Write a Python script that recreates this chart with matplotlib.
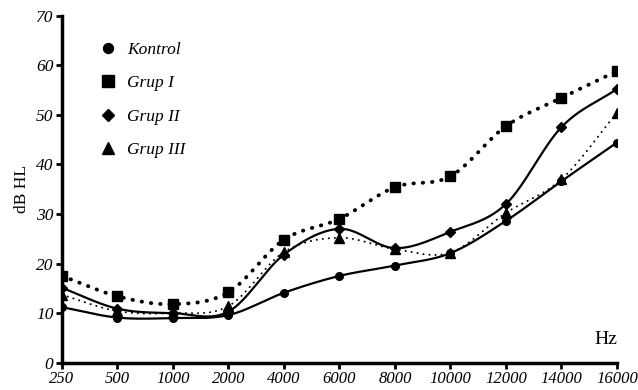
import numpy as np
import matplotlib.pyplot as plt

freqs = ['250', '500', '1000', '2000', '4000', '6000', '8000', '10000', '12000', '14000', '16000']
kontrol = [11.2, 9.1, 9.0, 9.6, 14.1, 17.5, 19.6, 22.1, 28.6, 36.6, 44.4]
grup1 = [17.5, 13.4, 11.8, 14.2, 24.8, 29.0, 35.4, 37.6, 47.7, 53.4, 58.8]
grup2 = [15.1, 10.9, 10.0, 10.3, 21.8, 27.0, 23.1, 26.4, 32.0, 47.5, 55.2]
grup3 = [13.7, 10.4, 10.0, 11.4, 22.3, 25.2, 22.9, 22.2, 30.2, 37.0, 50.4]


def smooth(y, n=30):
    # catmull-rom spline through the points
    y = np.asarray(y, float)
    x = np.arange(len(y), dtype=float)
    p = np.concatenate([[2 * y[0] - y[1]], y, [2 * y[-1] - y[-2]]])
    xs, ys = [], []
    for i in range(len(y) - 1):
        t = np.linspace(0, 1, n, endpoint=False)
        p0, p1, p2, p3 = p[i], p[i + 1], p[i + 2], p[i + 3]
        seg = 0.5 * (2 * p1 + (-p0 + p2) * t + (2 * p0 - 5 * p1 + 4 * p2 - p3) * t ** 2
                     + (-p0 + 3 * p1 - 3 * p2 + p3) * t ** 3)
        xs.append(x[i] + t)
        ys.append(seg)
    xs.append([x[-1]])
    ys.append([y[-1]])
    return np.concatenate(xs), np.concatenate(ys)


plt.rcParams['font.family'] = ['Liberation Serif', 'DejaVu Serif']

fig, ax = plt.subplots(figsize=(6.38, 3.90), dpi=100)
fig.subplots_adjust(left=0.097, right=0.967, top=0.96, bottom=0.07)

x = np.arange(len(freqs))
series = [
    (kontrol, 'o', dict(ls='-', lw=1.6), 'Kontrol', 5.5),
    (grup1, 's', dict(ls=(0, (0.1, 2.3)), lw=2.8, dash_capstyle='round'), 'Grup I', 6.5),
    (grup2, 'D', dict(ls='-', lw=1.6), 'Grup II', 5),
    (grup3, '^', dict(ls=(0, (0.1, 3.0)), lw=1.4, dash_capstyle='round'), 'Grup III', 6.5),
]
for vals, m, style, name, ms in series:
    sx, sy = smooth(vals)
    ax.plot(sx, sy, color='black', **style)
    ax.plot(x, vals, ls='none', marker=m, ms=ms, color='black', label=name)

ax.set_xlim(0, 10)
ax.set_ylim(0, 70)
ax.set_xticks(x)
ax.set_xticklabels(freqs, fontstyle='italic', fontsize=12)
ax.set_yticks(range(0, 71, 10))
ax.set_yticklabels([str(v) for v in range(0, 71, 10)], fontstyle='italic', fontsize=12.5)
ax.spines['top'].set_visible(False)
ax.spines['right'].set_visible(False)
ax.spines['left'].set_linewidth(2.5)
ax.spines['bottom'].set_linewidth(2.5)
ax.tick_params(width=2, length=4, pad=2)
ax.set_ylabel('dB HL', fontsize=12.5, labelpad=4)
ax.text(10, 3, 'Hz', ha='right', va='bottom', fontsize=14)

leg = ax.legend(loc='upper left', bbox_to_anchor=(0.04, 0.97), frameon=False,
                prop={'style': 'italic', 'size': 12.5}, labelspacing=1.0,
                handletextpad=0.6, handlelength=1.0, markerscale=1.3)

fig.savefig('out.png', dpi=100)
